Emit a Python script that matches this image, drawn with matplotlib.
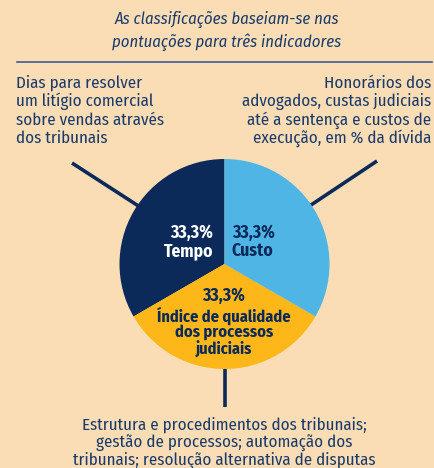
import matplotlib
matplotlib.use("Agg")
import matplotlib.pyplot as plt

W, H = 434, 468
BG = "#FADDB5"
NAVY = "#0B2A5A"
TEXT = "#1A3A6B"
RULE = "#3E5C98"

FONT = ["Fira Sans Condensed", "DejaVu Sans"]

# Indicator shares of the overall score
indicators = ["Tempo", "Índice de qualidade\ndos processos\njudiciais", "Custo"]
shares = [33.3, 33.3, 33.3]
share_labels = ["33,3%", "33,3%", "33,3%"]
colors = ["#0B2A5A", "#FDB718", "#4FB5E5"]

title_lines = ["As classificações baseiam-se nas",
               "pontuações para três indicadores"]
left_desc = ["Dias para resolver", "um litígio comercial",
             "sobre vendas através", "dos tribunais"]
right_desc = ["Honorários dos", "advogados, custas judiciais",
              "até a sentença e custos de", "execução, em % da dívida"]
bottom_desc = ["Estrutura e procedimentos dos tribunais;",
               "gestão de processos; automação dos",
               "tribunais; resolução alternativa de disputas"]

fig = plt.figure(figsize=(W / 100, H / 100), dpi=100, facecolor=BG)
ax = fig.add_axes([0, 0, 1, 1])
ax.set_facecolor(BG)


def Y(y):
    # top-down pixel row -> axis coordinate
    return H - y


cx, cy, r = 224.5, 264, 105
ax.pie(shares, colors=colors, startangle=90, counterclock=True,
       center=(cx, Y(cy)), radius=r,
       wedgeprops=dict(linewidth=0, zorder=3))

# leader lines from the descriptions to the pie
lw = 2.6
ax.plot([72, 140], [Y(163), Y(207)], color=NAVY, lw=lw, zorder=2,
        solid_capstyle="butt")
ax.plot([377, 308], [Y(161), Y(207)], color=NAVY, lw=lw, zorder=2,
        solid_capstyle="butt")
ax.plot([cx, cx], [Y(360), Y(407)], color=NAVY, lw=lw, zorder=2,
        solid_capstyle="butt")

# horizontal rule under the heading
ax.plot([17, 432], [Y(62), Y(62)], color=RULE, lw=1.2, zorder=2)

fs_title = 12.0
for i, t in enumerate(title_lines):
    ax.text(227, Y(20 + 22 * i), t, ha="center", va="center",
            fontsize=fs_title, style="italic", color=TEXT, family=FONT)

fs = 12.2
for i, t in enumerate(left_desc):
    ax.text(16, Y(83 + 18.5 * i), t, ha="left", va="center",
            fontsize=fs, color=TEXT, family=FONT)
for i, t in enumerate(right_desc):
    ax.text(431, Y(83 + 18.5 * i), t, ha="right", va="center",
            fontsize=fs, color=TEXT, family=FONT)
for i, t in enumerate(bottom_desc):
    ax.text(224, Y(425 + 17.5 * i), t, ha="center", va="center",
            fontsize=fs, color=TEXT, family=FONT)

# labels inside the wedges
fsb = 12.6
ax.text(213, Y(233), share_labels[0], ha="right", va="center",
        fontsize=fsb, weight="bold", color="white", family=FONT)
ax.text(213, Y(251), indicators[0], ha="right", va="center",
        fontsize=fsb, weight="bold", color="white", family=FONT)
ax.text(232, Y(233), share_labels[2], ha="left", va="center",
        fontsize=fsb, weight="bold", color=NAVY, family=FONT)
ax.text(232, Y(251), indicators[2], ha="left", va="center",
        fontsize=fsb, weight="bold", color=NAVY, family=FONT)
ax.text(224, Y(296), share_labels[1], ha="center", va="center",
        fontsize=fsb, weight="bold", color=NAVY, family=FONT)
for i, t in enumerate(indicators[1].split("\n")):
    ax.text(224, Y(316 + 16.5 * i), t, ha="center", va="center",
            fontsize=11.8, weight="bold", color=NAVY, family=FONT)

ax.set_xlim(0, W)
ax.set_ylim(0, H)
ax.set_aspect("equal")
ax.axis("off")
fig.savefig("out.png", dpi=100, facecolor=BG)
